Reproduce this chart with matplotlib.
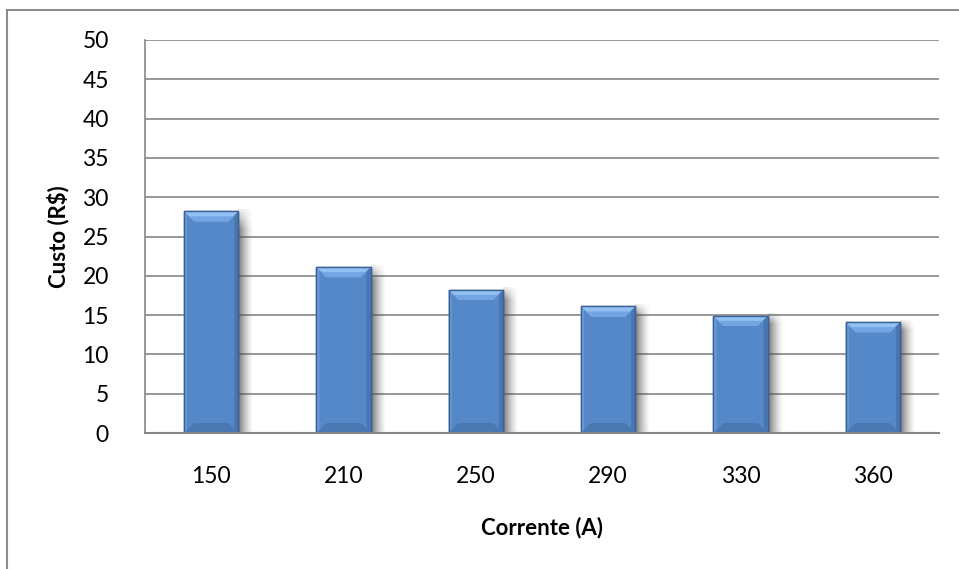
import matplotlib
matplotlib.use("Agg")
import numpy as np
import matplotlib.pyplot as plt
from matplotlib.patches import Polygon, Rectangle
from matplotlib.lines import Line2D

correntes = ["150", "210", "250", "290", "330", "360"]
custos = [28.2, 21.1, 18.2, 16.1, 14.9, 14.1]
yticks = list(range(0, 55, 5))

plt.rcParams['font.family'] = ['Lato', 'DejaVu Sans']

W, H = 959, 569
fig = plt.figure(figsize=(W / 100, H / 100), dpi=100)
ax_l, ax_r, ax_t, ax_b = 145, 939, 40, 433
ax = fig.add_axes([ax_l / W, 1 - ax_b / H, (ax_r - ax_l) / W, (ax_b - ax_t) / H])

face = "#5588C8"
edge = "#3A6194"
bars = ax.bar(range(len(correntes)), custos, width=0.41, color=face,
              edgecolor=edge, linewidth=1.0, zorder=3)

# data units per pixel
sx = len(correntes) / (ax_r - ax_l)
sy = 50 / (ax_b - ax_t)

# shadow texture: dark near the bar, fading to the right and at the top
sw, sh = 16, 60
gx = (1 - np.linspace(0, 1, sw)) ** 1.4
gy = np.ones(sh)
gy[:6] = np.linspace(0.2, 1, 6)
shadow = np.zeros((sh, sw, 4))
shadow[..., :3] = 0.3
shadow[..., 3] = 0.75 * np.outer(gy, gx)

for b in bars:
    x0, w, h = b.get_x(), b.get_width(), b.get_height()
    ax.imshow(shadow, extent=(x0 + w, x0 + w + sw * sx, 0, h + 2 * sy),
              origin="upper", aspect="auto", interpolation="bilinear", zorder=2)
    bx = 10 * sx
    by = 10 * sy
    top = Polygon([(x0, h), (x0 + w, h), (x0 + w - bx, h - by), (x0 + bx, h - by)],
                  closed=True, facecolor="#93C0F2", lw=0, zorder=4)
    top2 = Polygon([(x0 + 5 * sx, h - by * 0.5), (x0 + w - 5 * sx, h - by * 0.5),
                    (x0 + w - bx, h - by), (x0 + bx, h - by)],
                   closed=True, facecolor="#74A5E2", lw=0, zorder=4)
    bot = Polygon([(x0, 0), (x0 + w, 0), (x0 + w - bx, by), (x0 + bx, by)],
                  closed=True, facecolor="#4A78B3", lw=0, zorder=4)
    left = Polygon([(x0, 0), (x0 + 3 * sx, 3 * sy), (x0 + 3 * sx, h - 3 * sy), (x0, h)],
                   closed=True, facecolor="#6B9AD6", lw=0, zorder=4)
    right = Polygon([(x0 + w, 0), (x0 + w - 4 * sx, 4 * sy), (x0 + w - 4 * sx, h - 4 * sy), (x0 + w, h)],
                    closed=True, facecolor="#4776B0", lw=0, zorder=4)
    for p in (left, right, top, top2, bot):
        ax.add_patch(p)
    ax.add_patch(Rectangle((x0, 0), w, h, facecolor="none", edgecolor=edge, lw=1.0, zorder=5))

ax.set_ylim(0, 50)
ax.set_xlim(-0.5, len(correntes) - 0.5)
ax.set_aspect("auto")
ax.set_yticks(yticks)
ax.set_xticks(range(len(correntes)))
ax.set_xticklabels(correntes)
ax.yaxis.grid(True, color="#868686", linewidth=1.2, zorder=0)
ax.set_axisbelow(True)
for s in ("top", "right"):
    ax.spines[s].set_visible(False)
ax.spines["left"].set_color("#868686")
ax.spines["bottom"].set_color("#868686")
ax.spines["bottom"].set_zorder(6)
ax.spines["left"].set_linewidth(1.2)
ax.spines["bottom"].set_linewidth(1.5)
ax.tick_params(axis="y", length=0, labelsize=16.5, pad=26)
ax.tick_params(axis="x", length=0, labelsize=16.5, pad=24)

fig.text(58 / W, 1 - 237 / H, "Custo (R$)", rotation=90, ha="center", va="center",
         fontsize=16, fontweight="bold")
fig.text(542 / W, 1 - 528 / H, "Corrente (A)", ha="center", va="center",
         fontsize=16, fontweight="bold")

# chart frame
fig.add_artist(Line2D([7 / W, 1], [1 - 10 / H, 1 - 10 / H], color="#8C8C8C", lw=1.5))
fig.add_artist(Line2D([7 / W, 7 / W], [0, 1 - 10 / H], color="#8C8C8C", lw=1.5))

fig.savefig("out.png", dpi=100)
